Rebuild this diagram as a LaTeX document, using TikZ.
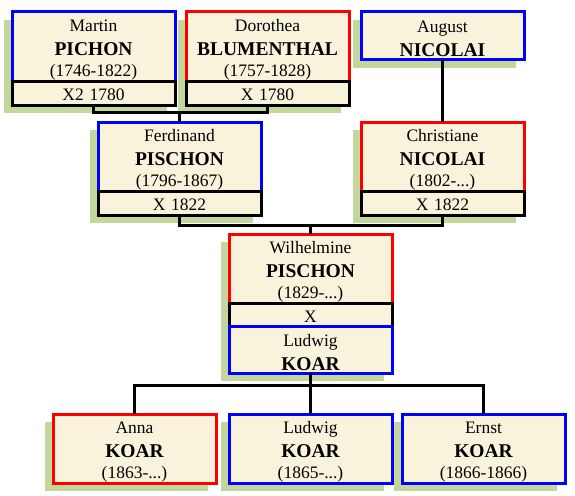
\documentclass[tikz,border=0pt]{standalone}
\usepackage{fontspec}
\setmainfont{Liberation Serif}
\usetikzlibrary{positioning,shadows}
\definecolor{boxfill}{HTML}{FAF3DC}
\definecolor{shadowgreen}{HTML}{C3D69B}
\newcommand{\given}[1]{\rule{0pt}{18pt}#1\\[3pt]}
\newcommand{\surname}[1]{{\fontsize{19.5}{21}\selectfont\bfseries #1}}

\begin{document}
\begin{tikzpicture}[x=1pt, y=-1pt,
    box/.style={draw, fill=boxfill, line width=3pt, outer sep=0pt, inner sep=0pt,
        minimum width=163pt, text width=160pt, align=center,
        font=\fontsize{17.5}{21}\selectfont,
        drop shadow={shadow xshift=-8pt, shadow yshift=-8pt, fill=shadowgreen, opacity=1}},
    man/.style={box, draw=blue, minimum height=69pt},
    woman/.style={box, draw=red, minimum height=69pt},
    wed/.style={box, draw=black, minimum height=24pt, text height=15pt, text depth=0pt},
    link/.style={draw, line width=3pt}]
    \useasboundingbox (0,0) rectangle (575,495);

    % grandparents
    \node[man, anchor=north west] (martin) at (12,12) {\given{Martin}\surname{PICHON}\\(1746-1822)};
    \node[wed, below=0pt of martin] (wedMartin) {X2 1780};
    \node[woman, anchor=north west] (dorothea) at (186,12) {\given{Dorothea}\surname{BLUMENTHAL}\\(1757-1828)};
    \node[wed, below=0pt of dorothea] (wedDorothea) {X 1780};
    \node[man, anchor=north west, minimum height=48pt] (august) at (361,12) {\given{August}\surname{NICOLAI}};

    % parents
    \node[man, anchor=north west] (ferdinand) at (98,122) {\given{Ferdinand}\surname{PISCHON}\\(1796-1867)};
    \node[wed, below=0pt of ferdinand] (wedFerdinand) {X 1822};
    \node[woman, anchor=north west] (christiane) at (361,122) {\given{Christiane}\surname{NICOLAI}\\(1802-...)};
    \node[wed, below=0pt of christiane] (wedChristiane) {X 1822};

    % couple
    \node[woman, anchor=north west] (wilhelmine) at (229,234) {\given{Wilhelmine}\surname{PISCHON}\\(1829-...)};
    \node[wed, below=0pt of wilhelmine, minimum height=23pt] (wedWilhelmine) {X};
    \node[man, below=0pt of wedWilhelmine, minimum height=47pt] (ludwig) {\given{Ludwig}\surname{KOAR}};

    % children
    \node[woman, anchor=north west] (anna) at (53,414) {\given{Anna}\surname{KOAR}\\(1863-...)};
    \node[man, anchor=north west] (ludwigJr) at (229,414) {\given{Ludwig}\surname{KOAR}\\(1865-...)};
    \node[man, anchor=north west] (ernst) at (402,414) {\given{Ernst}\surname{KOAR}\\(1866-1866)};

    % links
    \draw[link] (wedMartin.south) -- ++(0,7) -| (wedDorothea.south);
    \draw[link] (ferdinand.north) -- ++(0,-10);
    \draw[link] (august.south) -- (christiane.north);
    \draw[link] (wedFerdinand.south) -- ++(0,10) -| (wedChristiane.south);
    \draw[link] (wilhelmine.north) -- ++(0,-9);
    \draw[link] (anna.north) -- ++(0,-29) -| (ernst.north);
    \draw[link] (ludwig.south) -- (ludwigJr.north);
\end{tikzpicture}
\end{document}
